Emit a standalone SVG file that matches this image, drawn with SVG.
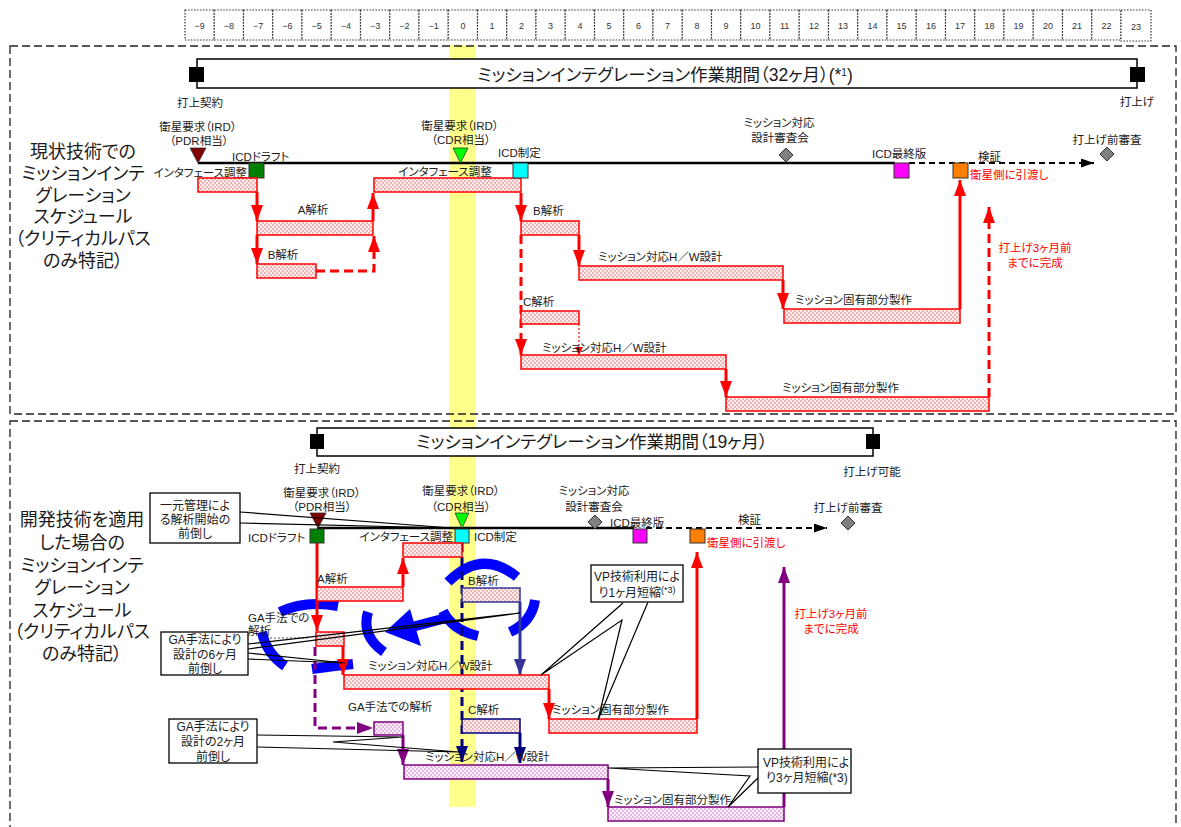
<svg xmlns="http://www.w3.org/2000/svg" width="1181" height="827" viewBox="0 0 1181 827">
<style>
text{font-family:"Liberation Sans","Noto Sans CJK JP",sans-serif;fill:#1a1a1a;font-size:11.5px;font-feature-settings:"palt" 1}
.c{text-anchor:middle}
.e{text-anchor:end}
.cap{font-size:18px}
.ttl{font-size:17.5px}
.cl{font-size:12px}
.rl{font-size:9px;fill:#333}
.red{fill:#ff0000}
.cell{fill:#fff;stroke:#333;stroke-width:1.2;stroke-dasharray:1.5 1.5}
.bar{fill:url(#ht);stroke:#ff0000;stroke-width:1.5}
.barN{fill:url(#ht);stroke:#333399;stroke-width:1.5}
.barN2{fill:url(#ht);stroke:#000080;stroke-width:1.5}
.barP{fill:url(#hp);stroke:#800080;stroke-width:1.5}
.r{fill:none;stroke:#ff0000;stroke-width:3}
.rd{fill:none;stroke:#ff0000;stroke-width:3;stroke-dasharray:9 5}
.p{fill:none;stroke:#800080;stroke-width:3}
.pd{fill:none;stroke:#800080;stroke-width:3;stroke-dasharray:9 5}
.n{fill:none;stroke:#333399;stroke-width:3}
.n2{fill:none;stroke:#000080;stroke-width:3}
.nd{fill:none;stroke:#000080;stroke-width:3;stroke-dasharray:9 5}
.bl{fill:none;stroke:#0000ff;stroke-width:10}
.box{fill:#fff;stroke:#000;stroke-width:1.3}
.ptr{fill:none;stroke:#000;stroke-width:1.2}
.sq{stroke:#333;stroke-width:1}
.dm{fill:#808080;stroke:#333;stroke-width:1}
.sec{fill:none;stroke:#222;stroke-width:1.3;stroke-dasharray:8 4}
</style>
<defs>
<pattern id="ht" width="4" height="4" patternUnits="userSpaceOnUse"><rect width="4" height="4" fill="#fdf0f0"/><rect width="2" height="2" fill="#f0b4b4"/><rect x="2" y="2" width="2" height="2" fill="#f0b4b4"/></pattern>
<pattern id="hp" width="4" height="4" patternUnits="userSpaceOnUse"><rect width="4" height="4" fill="#fbf0fb"/><rect width="2" height="2" fill="#e4b8e0"/><rect x="2" y="2" width="2" height="2" fill="#e4b8e0"/></pattern>
<marker id="aR" viewBox="0 0 16 12" refX="16" refY="6" markerWidth="16" markerHeight="12" markerUnits="userSpaceOnUse" orient="auto"><path d="M0,0L16,6L0,12z" fill="#ff0000"/></marker>
<marker id="aRs" viewBox="0 0 8 8" refX="8" refY="4" markerWidth="8" markerHeight="8" markerUnits="userSpaceOnUse" orient="auto"><path d="M0,0L8,4L0,8z" fill="#ff0000"/></marker>
<marker id="aK" viewBox="0 0 13 9" refX="13" refY="4.5" markerWidth="13" markerHeight="9" markerUnits="userSpaceOnUse" orient="auto"><path d="M0,0L13,4.5L0,9z" fill="#000"/></marker>
<marker id="aP" viewBox="0 0 16 12" refX="16" refY="6" markerWidth="16" markerHeight="12" markerUnits="userSpaceOnUse" orient="auto"><path d="M0,0L16,6L0,12z" fill="#800080"/></marker>
<marker id="aN" viewBox="0 0 16 12" refX="16" refY="6" markerWidth="16" markerHeight="12" markerUnits="userSpaceOnUse" orient="auto"><path d="M0,0L16,6L0,12z" fill="#333399"/></marker>
<marker id="aN2" viewBox="0 0 16 12" refX="16" refY="6" markerWidth="16" markerHeight="12" markerUnits="userSpaceOnUse" orient="auto"><path d="M0,0L16,6L0,12z" fill="#000080"/></marker>
</defs>
<rect width="1181" height="827" fill="#fff"/>

<!-- yellow band -->
<rect id="band" x="449" y="45" width="27" height="762" fill="#ffff8c"/>

<!-- ruler -->
<g id="ruler">
<rect class="cell" x="185" y="10" width="29.25" height="30"/><rect class="cell" x="214.25" y="10" width="29.25" height="30"/><rect class="cell" x="243.5" y="10" width="29.25" height="30"/><rect class="cell" x="272.75" y="10" width="29.25" height="30"/><rect class="cell" x="302" y="10" width="29.25" height="30"/><rect class="cell" x="331.25" y="10" width="29.25" height="30"/><rect class="cell" x="360.5" y="10" width="29.25" height="30"/><rect class="cell" x="389.75" y="10" width="29.25" height="30"/><rect class="cell" x="419" y="10" width="29.25" height="30"/><rect class="cell" x="448.25" y="10" width="29.25" height="30"/><rect class="cell" x="477.5" y="10" width="29.25" height="30"/><rect class="cell" x="506.75" y="10" width="29.25" height="30"/><rect class="cell" x="536" y="10" width="29.25" height="30"/><rect class="cell" x="565.25" y="10" width="29.25" height="30"/><rect class="cell" x="594.5" y="10" width="29.25" height="30"/><rect class="cell" x="623.75" y="10" width="29.25" height="30"/><rect class="cell" x="653" y="10" width="29.25" height="30"/><rect class="cell" x="682.25" y="10" width="29.25" height="30"/><rect class="cell" x="711.5" y="10" width="29.25" height="30"/><rect class="cell" x="740.75" y="10" width="29.25" height="30"/><rect class="cell" x="770" y="10" width="29.25" height="30"/><rect class="cell" x="799.25" y="10" width="29.25" height="30"/><rect class="cell" x="828.5" y="10" width="29.25" height="30"/><rect class="cell" x="857.75" y="10" width="29.25" height="30"/><rect class="cell" x="887" y="10" width="29.25" height="30"/><rect class="cell" x="916.25" y="10" width="29.25" height="30"/><rect class="cell" x="945.5" y="10" width="29.25" height="30"/><rect class="cell" x="974.75" y="10" width="29.25" height="30"/><rect class="cell" x="1004" y="10" width="29.25" height="30"/><rect class="cell" x="1033.25" y="10" width="29.25" height="30"/><rect class="cell" x="1062.5" y="10" width="29.25" height="30"/><rect class="cell" x="1091.75" y="10" width="29.25" height="30"/><rect class="cell" x="1121" y="10" width="30" height="31"/>
<text class="rl c" x="199.6" y="29">−9</text><text class="rl c" x="228.9" y="29">−8</text><text class="rl c" x="258.1" y="29">−7</text><text class="rl c" x="287.4" y="29">−6</text><text class="rl c" x="316.6" y="29">−5</text><text class="rl c" x="345.9" y="29">−4</text><text class="rl c" x="375.1" y="29">−3</text><text class="rl c" x="404.4" y="29">−2</text><text class="rl c" x="433.6" y="29">−1</text><text class="rl c" x="462.9" y="29">0</text><text class="rl c" x="492.1" y="29">1</text><text class="rl c" x="521.4" y="29">2</text><text class="rl c" x="550.6" y="29">3</text><text class="rl c" x="579.9" y="29">4</text><text class="rl c" x="609.1" y="29">5</text><text class="rl c" x="638.4" y="29">6</text><text class="rl c" x="667.6" y="29">7</text><text class="rl c" x="696.9" y="29">8</text><text class="rl c" x="726.1" y="29">9</text><text class="rl c" x="755.4" y="29">10</text><text class="rl c" x="784.6" y="29">11</text><text class="rl c" x="813.9" y="29">12</text><text class="rl c" x="843.1" y="29">13</text><text class="rl c" x="872.4" y="29">14</text><text class="rl c" x="901.6" y="29">15</text><text class="rl c" x="930.9" y="29">16</text><text class="rl c" x="960.1" y="29">17</text><text class="rl c" x="989.4" y="29">18</text><text class="rl c" x="1018.6" y="29">19</text><text class="rl c" x="1047.9" y="29">20</text><text class="rl c" x="1077.1" y="29">21</text><text class="rl c" x="1106.4" y="29">22</text><text class="rl c" x="1136" y="30">23</text>
</g>

<!-- section frames -->
<rect class="sec" x="10" y="46" width="1166" height="368"/>
<rect class="sec" x="10" y="421" width="1166" height="420"/>

<!-- ============ TOP SECTION ============ -->
<g id="caption-top">
<text class="cap c" x="83" y="158">現状技術での</text>
<text class="cap c" x="83" y="180">ミッションインテ</text>
<text class="cap c" x="83" y="202">グレーション</text>
<text class="cap c" x="83" y="223">スケジュール</text>
<text class="cap c" x="83" y="245">（クリティカルパス</text>
<text class="cap c" x="83" y="267">のみ特記）</text>
</g>

<g id="period-top">
<rect x="197" y="59" width="940" height="29" fill="#fff" stroke="#000" stroke-width="1.5"/>
<rect x="189" y="67" width="15" height="15" fill="#000"/>
<rect x="1130" y="67" width="15" height="15" fill="#000"/>
<text class="ttl c" x="665" y="81">ミッションインテグレーション作業期間（32ヶ月）(*<tspan font-size="10" dy="-5">1</tspan><tspan dy="5">)</tspan></text>
<text class="c" x="200" y="107">打上契約</text>
<text class="c" x="1137" y="106">打上げ</text>
</g>

<g id="connectors-top">
<path d="M198,163H895" stroke="#000" stroke-width="2.5"/>
<path d="M909,163H1094" stroke="#000" stroke-width="2.2" stroke-dasharray="6 4" marker-end="url(#aK)"/>
<path class="r" d="M257,192V221" marker-end="url(#aR)"/>
<path class="r" d="M257,235V264" marker-end="url(#aR)"/>
<path class="rd" d="M316,271H374V236" marker-end="url(#aR)"/>
<path class="r" d="M373,221V193" marker-end="url(#aR)"/>
<path class="r" d="M521,193V221" marker-end="url(#aR)"/>
<path class="r" d="M579,235V266" marker-end="url(#aR)"/>
<path class="r" d="M783,280V309" marker-end="url(#aR)"/>
<path class="r" d="M960,309V180" marker-end="url(#aR)"/>
<path class="rd" d="M521,235V355" marker-end="url(#aR)"/>
<path d="M579,324V355" fill="none" stroke="#ff0000" stroke-width="1.2" stroke-dasharray="2 2" marker-end="url(#aRs)"/>
<path class="r" d="M726,369V397" marker-end="url(#aR)"/>
<path class="rd" d="M989,397V207" marker-end="url(#aR)"/>
</g>

<g id="ms-pdr-top">
<text class="c" x="198" y="131" font-size="12">衛星要求（IRD）</text>
<text class="c" x="199" y="145" font-size="12">（PDR相当）</text>
<polygon points="190,148 206,148 198,163" fill="#800000" stroke="#333" stroke-width="0.8"/>
</g>
<g id="icd-draft-top">
<rect class="sq" x="249" y="163" width="15" height="15" fill="#008000"/>
<text x="232" y="161">ICDドラフト</text>
</g>
<g id="if1-top">
<text class="e" x="247" y="177">インタフェース調整</text>
<rect class="bar" x="198" y="178" width="59" height="14"/>
</g>
<g id="a-top">
<text class="c" x="313" y="214">A解析</text>
<rect class="bar" x="257" y="221" width="116" height="14"/>
</g>
<g id="b-top">
<text class="c" x="283" y="259">B解析</text>
<rect class="bar" x="257" y="264" width="59" height="14"/>
</g>
<g id="ms-cdr-top">
<text class="c" x="460" y="130" font-size="12">衛星要求（IRD）</text>
<text class="c" x="461" y="144" font-size="12">（CDR相当）</text>
<polygon points="453,148 468,148 460.5,163" fill="#00ff00" stroke="#333" stroke-width="0.8"/>
</g>
<g id="if2-top">
<text class="c" x="445" y="176">インタフェース調整</text>
<rect class="bar" x="374" y="178" width="147" height="14"/>
</g>
<g id="icd-fix-top">
<rect class="sq" x="513" y="163" width="15" height="15" fill="#00ffff"/>
<text x="498" y="157">ICD制定</text>
</g>
<g id="b2-top">
<text x="533" y="215">B解析</text>
<rect class="bar" x="521" y="221" width="58" height="14"/>
</g>
<g id="hw-top">
<text x="598" y="261">ミッション対応H／W設計</text>
<rect class="bar" x="579" y="266" width="204" height="14"/>
</g>
<g id="mfg-top">
<text x="795" y="304">ミッション固有部分製作</text>
<rect class="bar" x="784" y="309" width="176" height="14"/>
</g>
<g id="c-top">
<text x="523" y="306">C解析</text>
<rect class="bar" x="521" y="311" width="58" height="13"/>
</g>
<g id="hw2-top">
<text x="542" y="352">ミッション対応H／W設計</text>
<rect class="bar" x="521" y="355" width="205" height="14"/>
</g>
<g id="mfg2-top">
<text x="782" y="392">ミッション固有部分製作</text>
<rect class="bar" x="726" y="397" width="263" height="14"/>
</g>
<g id="dr-top">
<text class="c" x="779" y="127">ミッション対応</text>
<text class="c" x="780" y="142">設計審査会</text>
<polygon class="dm" points="786,148 793,155 786,162 779,155"/>
</g>
<g id="icd-final-top">
<rect class="sq" x="894" y="163" width="15" height="15" fill="#ff00ff"/>
<text x="872" y="158">ICD最終版</text>
</g>
<g id="deliver-top">
<rect class="sq" x="953" y="163" width="15" height="15" fill="#ff8000"/>
<text class="red" x="970" y="179" font-size="11">衛星側に引渡し</text>
<text x="978" y="161">検証</text>
</g>
<g id="prl-top">
<text class="c" x="1107" y="144">打上げ前審査</text>
<polygon class="dm" points="1107,147 1114,154 1107,161 1100,154"/>
</g>
<g id="note-top">
<text class="red c" x="1035" y="252">打上げ3ヶ月前</text>
<text class="red c" x="1035" y="267">までに完成</text>
</g>

<!-- ============ BOTTOM SECTION ============ -->
<g id="caption-bottom">
<text class="cap c" x="82" y="526">開発技術を適用</text>
<text class="cap c" x="82" y="549">した場合の</text>
<text class="cap c" x="82" y="572">ミッションインテ</text>
<text class="cap c" x="82" y="594">グレーション</text>
<text class="cap c" x="82" y="617">スケジュール</text>
<text class="cap c" x="82" y="638">（クリティカルパス</text>
<text class="cap c" x="82" y="660">のみ特記）</text>
</g>

<g id="period-bottom">
<rect x="317" y="428" width="556" height="28" fill="#fff" stroke="#000" stroke-width="1.5"/>
<rect x="310" y="434" width="14" height="15" fill="#000"/>
<rect x="866" y="434" width="14" height="15" fill="#000"/>
<text class="ttl c" x="592" y="448">ミッションインテグレーション作業期間（19ヶ月）</text>
<text class="c" x="317" y="473">打上契約</text>
<text class="c" x="872" y="476">打上げ可能</text>
</g>

<g id="blue-marks">
<path class="bl" d="M448,582 Q482,548 517,577"/>
<path class="bl" d="M535,600 Q532,622 510,632"/>
<path class="bl" d="M443,611 Q452,630 478,636"/>
<path class="bl" d="M280,612 Q305,600 338,606"/>
<path class="bl" d="M262,632 Q266,653 285,666"/>
<path class="bl" d="M312,669 Q333,666 353,664"/>
<path class="bl" d="M368,612 Q361,636 384,652"/>
<path class="bl" d="M412,627 L446,618"/>
<polygon points="385,632 410,609 421,646" fill="#0000ff"/>
</g>

<g id="connectors-bottom">
<path d="M317,528H634" stroke="#000" stroke-width="2.5"/>
<path d="M646,528H827" stroke="#000" stroke-width="2.2" stroke-dasharray="6 4" marker-end="url(#aK)"/>
<path class="r" d="M317,543V631" marker-end="url(#aR)"/>
<path class="pd" d="M315,647V728H373" marker-end="url(#aP)"/>
<path class="r" d="M403,587V558" marker-end="url(#aR)"/>
<path class="r" d="M343,646V675" marker-end="url(#aR)"/>
<path class="nd" d="M462,543V762" marker-end="url(#aN2)"/>
<path class="n" d="M520,602V675" marker-end="url(#aN)"/>
<path class="n2" d="M520,733V763" marker-end="url(#aN2)"/>
<path class="r" d="M549,689V719" marker-end="url(#aR)"/>
<path class="r" d="M697,719V552" marker-end="url(#aR)"/>
<path class="p" d="M403,735V765" marker-end="url(#aP)"/>
<path class="p" d="M608,779V807" marker-end="url(#aP)"/>
<path class="p" d="M784,807V567" marker-end="url(#aP)"/>
</g>

<g id="ms-pdr-bottom">
<text class="c" x="322" y="497" font-size="12">衛星要求（IRD）</text>
<text class="c" x="322" y="511" font-size="12">（PDR相当）</text>
<polygon points="310,513 326,513 318,528" fill="#800000" stroke="#333" stroke-width="0.8"/>
</g>
<g id="icd-draft-bottom">
<rect class="sq" x="310" y="529" width="14" height="14" fill="#008000"/>
<text x="248" y="542">ICDドラフト</text>
</g>
<g id="ms-cdr-bottom">
<text class="c" x="461" y="495" font-size="12">衛星要求（IRD）</text>
<text class="c" x="461" y="511" font-size="12">（CDR相当）</text>
<polygon points="455,513 469,513 462,528" fill="#00ff00" stroke="#333" stroke-width="0.8"/>
</g>
<g id="icd-fix-bottom">
<rect class="sq" x="455" y="529" width="14" height="14" fill="#00ffff"/>
<text x="474" y="541">ICD制定</text>
</g>
<g id="if-bottom">
<text class="e" x="453" y="541">インタフェース調整</text>
<rect class="bar" x="403" y="543" width="59" height="14"/>
</g>
<g id="dr-bottom">
<text class="c" x="594" y="495">ミッション対応</text>
<text class="c" x="594" y="511">設計審査会</text>
<polygon class="dm" points="595,515 602,522 595,529 588,522"/>
</g>
<g id="icd-final-bottom">
<rect class="sq" x="633" y="529" width="14" height="14" fill="#ff00ff"/>
<text x="610" y="527">ICD最終版</text>
</g>
<g id="deliver-bottom">
<rect class="sq" x="690" y="529" width="15" height="14" fill="#ff8000"/>
<text class="red" x="707" y="547" font-size="11">衛星側に引渡し</text>
<text x="738" y="524">検証</text>
</g>
<g id="prl-bottom">
<text class="c" x="848" y="512">打上げ前審査</text>
<polygon class="dm" points="848,516 855,523 848,530 841,523"/>
</g>
<g id="a-bottom">
<text x="317" y="583">A解析</text>
<rect class="bar" x="317" y="587" width="86" height="14"/>
</g>
<g id="ga-bottom">
<text x="248" y="622">GA手法での</text>
<text x="248" y="635">解析</text>
<path d="M270,638H310" stroke="#555" stroke-width="1" stroke-dasharray="2 2"/>
<rect class="bar" x="316" y="632" width="28" height="14"/>
</g>
<g id="b-bottom">
<text x="468" y="585">B解析</text>
<rect class="barN" x="462" y="588" width="58" height="14"/>
</g>
<g id="hw-bottom">
<text x="368" y="670">ミッション対応H／W設計</text>
<rect class="bar" x="344" y="675" width="205" height="14"/>
</g>
<g id="mfg-bottom">
<text x="552" y="714">ミッション固有部分製作</text>
<rect class="bar" x="549" y="719" width="148" height="14"/>
</g>
<g id="ga2-bottom">
<text x="348" y="711">GA手法での解析</text>
<rect class="barP" x="374" y="722" width="29" height="13"/>
</g>
<g id="c-bottom">
<text x="468" y="714">C解析</text>
<rect class="barN2" x="462" y="719" width="58" height="14"/>
</g>
<g id="hw2-bottom">
<text x="425" y="761">ミッション対応H／W設計</text>
<rect class="barP" x="404" y="765" width="204" height="14"/>
</g>
<g id="mfg2-bottom">
<text x="614" y="804">ミッション固有部分製作</text>
<rect class="barP" x="608" y="807" width="176" height="14"/>
</g>
<g id="note-bottom">
<text class="red c" x="831" y="618">打上げ3ヶ月前</text>
<text class="red c" x="831" y="633">までに完成</text>
</g>

<!-- callouts -->
<g id="callout-1">
<path class="ptr" d="M240,512L452,528L240,523"/>
<rect class="box" x="150" y="493" width="90" height="50"/>
<text class="cl c" x="195" y="510">一元管理によ</text>
<text class="cl c" x="195" y="524">る解析開始の</text>
<text class="cl c" x="195" y="538">前倒し</text>
</g>
<g id="callout-2">
<path class="ptr" d="M248,644L520,613L248,649M248,653L345,663L248,659"/>
<rect class="box" x="161" y="632" width="87" height="43"/>
<text class="cl c" x="205" y="644">GA手法により</text>
<text class="cl c" x="205" y="659">設計の6ヶ月</text>
<text class="cl c" x="205" y="673">前倒し</text>
</g>
<g id="callout-3">
<path class="ptr" d="M257,735L403,737L333,742L459,752L257,747"/>
<rect class="box" x="169" y="719" width="88" height="44"/>
<text class="cl c" x="213" y="731">GA手法により</text>
<text class="cl c" x="213" y="746">設計の2ヶ月</text>
<text class="cl c" x="213" y="761">前倒し</text>
</g>
<g id="callout-4">
<path class="ptr" d="M623,603L541,675L622,620L598,720L648,602"/>
<rect class="box" x="591" y="565" width="92" height="37"/>
<text class="cl c" x="637" y="581">VP技術利用によ</text>
<text class="cl c" x="637" y="597">り1ヶ月短縮<tspan font-size="9" dy="-4">(*3)</tspan></text>
</g>
<g id="callout-5">
<path class="ptr" d="M758,767L608,768L750,776L728,807L758,778"/>
<rect class="box" x="758" y="749" width="93" height="44"/>
<text class="cl" x="763" y="767">VP技術利用によ</text>
<text class="cl" x="766" y="782">り3ヶ月短縮(*3)</text>
</g>
</svg>
